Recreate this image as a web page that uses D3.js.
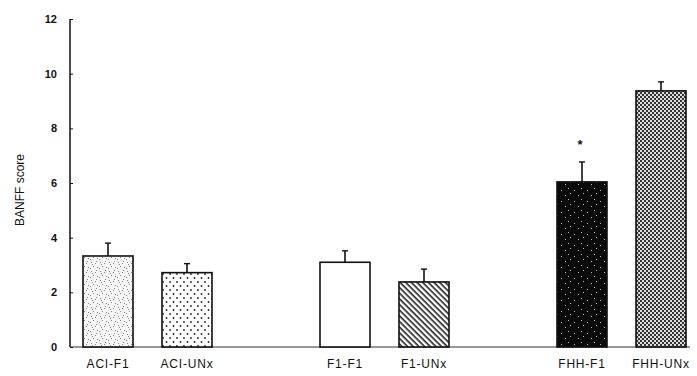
<!DOCTYPE html>
<html>
<head>
  <meta charset="UTF-8">
  <style>
    body { margin: 0; background: white; font-family: "Liberation Sans", Arial, sans-serif; }
    svg text { fill: #111; }
  </style>
</head>
<body>
<svg></svg>
<script src="https://d3js.org/d3.v7.min.js"></script>
<script>

let width = 697, height = 376;

// data
let groups = ["ACI-F1", "ACI-UNx", "", "F1-F1", "F1-UNx", " ", "FHH-F1", "FHH-UNx"];
let categories = ["ACI-F1", "ACI-UNx", "F1-F1", "F1-UNx", "FHH-F1", "FHH-UNx"];
let means = [3.33, 2.72, 3.1, 2.38, 6.04, 9.37];
let errors = [0.47, 0.33, 0.42, 0.47, 0.73, 0.33];
let fills = ["stipple", "dots", "white", "hatch", "black", "checker"];
let starred = ["FHH-F1"];
let yTicks = [0, 2, 4, 6, 8, 10, 12];

let svg = d3.select("svg")
    .attr("width", width)
    .attr("height", height);

let x = d3.scaleBand()
    .domain(groups)
    .range([83, 686])
    .paddingInner(0.367)
    .paddingOuter(0);

let y = d3.scaleLinear()
    .domain([0, 12])
    .range([347, 19]);

// patterns
let defs = svg.append("defs");

let st = defs.append("pattern").attr("id", "stipple")
    .attr("patternUnits", "userSpaceOnUse").attr("width", 9).attr("height", 9);
st.append("rect").attr("width", 9).attr("height", 9).attr("fill", "#f6f6f6");
[[1, 1], [5, 2], [3, 5], [7, 6], [0, 7], [6, 0], [2, 3]].forEach(p => {
  st.append("rect").attr("x", p[0]).attr("y", p[1]).attr("width", 1).attr("height", 1).attr("fill", "#888");
});

let dt = defs.append("pattern").attr("id", "dots")
    .attr("patternUnits", "userSpaceOnUse").attr("width", 7).attr("height", 8);
dt.append("rect").attr("width", 7).attr("height", 8).attr("fill", "white");
dt.append("circle").attr("cx", 2).attr("cy", 2).attr("r", 0.9).attr("fill", "#222");
dt.append("circle").attr("cx", 5.5).attr("cy", 6).attr("r", 0.9).attr("fill", "#222");

let ht = defs.append("pattern").attr("id", "hatch")
    .attr("patternUnits", "userSpaceOnUse").attr("width", 4).attr("height", 4)
    .attr("patternTransform", "rotate(45)");
ht.append("rect").attr("width", 4).attr("height", 4).attr("fill", "white");
ht.append("rect").attr("width", 4).attr("height", 1.6).attr("fill", "#222");

let bk = defs.append("pattern").attr("id", "black")
    .attr("patternUnits", "userSpaceOnUse").attr("width", 13).attr("height", 11);
bk.append("rect").attr("width", 13).attr("height", 11).attr("fill", "#0a0a0a");
[[2, 3], [9, 1], [6, 8], [11, 6]].forEach(p => {
  bk.append("rect").attr("x", p[0]).attr("y", p[1]).attr("width", 1).attr("height", 1).attr("fill", "#bbb");
});

let ck = defs.append("pattern").attr("id", "checker")
    .attr("patternUnits", "userSpaceOnUse").attr("width", 4).attr("height", 4);
ck.append("rect").attr("width", 4).attr("height", 4).attr("fill", "#ddd");
ck.append("rect").attr("width", 2).attr("height", 2).attr("fill", "#333");
ck.append("rect").attr("x", 2).attr("y", 2).attr("width", 2).attr("height", 2).attr("fill", "#333");

// axes
let yAxis = d3.axisLeft(y).tickValues(yTicks).tickSize(3).tickPadding(10);
let gy = svg.append("g").attr("transform", "translate(70,0)").call(yAxis);
gy.select(".domain").attr("stroke", "#111").attr("stroke-width", 1.5).attr("d", "M0," + y(12) + "V" + y(0));
gy.selectAll(".tick line").attr("x2", 3).attr("stroke", "#111");
gy.selectAll(".tick text")
    .style("font-size", "11px")
    .style("font-weight", "bold")
    .style("font-family", "'Liberation Sans', Arial, sans-serif");

svg.append("line")
    .attr("x1", 70).attr("x2", 690)
    .attr("y1", y(0)).attr("y2", y(0))
    .attr("stroke", "#333").attr("stroke-width", 1.2);

svg.append("text")
    .attr("transform", "translate(24,190) rotate(-90)")
    .attr("text-anchor", "middle")
    .style("font-size", "12px")
    .text("BANFF score");

// bars
let bars = svg.append("g").selectAll("g")
    .data(categories)
    .enter()
    .append("g");

bars.append("rect")
    .attr("x", d => x(d))
    .attr("y", (d, i) => y(means[i]))
    .attr("width", x.bandwidth())
    .attr("height", (d, i) => y(0) - y(means[i]))
    .attr("fill", (d, i) => fills[i] == "white" ? "white" : "url(#" + fills[i] + ")")
    .attr("stroke", "#111")
    .attr("stroke-width", 1.6);

// error bars
bars.append("line")
    .attr("x1", d => x(d) + x.bandwidth() / 2)
    .attr("x2", d => x(d) + x.bandwidth() / 2)
    .attr("y1", (d, i) => y(means[i]))
    .attr("y2", (d, i) => y(means[i] + errors[i]))
    .attr("stroke", "#111").attr("stroke-width", 1.6);

bars.append("line")
    .attr("x1", d => x(d) + x.bandwidth() / 2 - 3)
    .attr("x2", d => x(d) + x.bandwidth() / 2 + 3)
    .attr("y1", (d, i) => y(means[i] + errors[i]))
    .attr("y2", (d, i) => y(means[i] + errors[i]))
    .attr("stroke", "#111").attr("stroke-width", 1.4);

// significance star
bars.filter(d => starred.includes(d))
    .append("text")
    .attr("x", d => x(d) + x.bandwidth() / 2 - 2)
    .attr("y", d => y(means[categories.indexOf(d)] + errors[categories.indexOf(d)]) - 13)
    .attr("text-anchor", "middle")
    .style("font-size", "13px")
    .style("font-weight", "bold")
    .text("*");

// category labels
svg.append("g").selectAll("text")
    .data(categories)
    .enter()
    .append("text")
    .attr("x", d => x(d) + x.bandwidth() / 2)
    .attr("y", 368)
    .attr("text-anchor", "middle")
    .style("font-size", "12px")
    .style("letter-spacing", "0.8px")
    .text(d => d);

</script>
</body>
</html>
